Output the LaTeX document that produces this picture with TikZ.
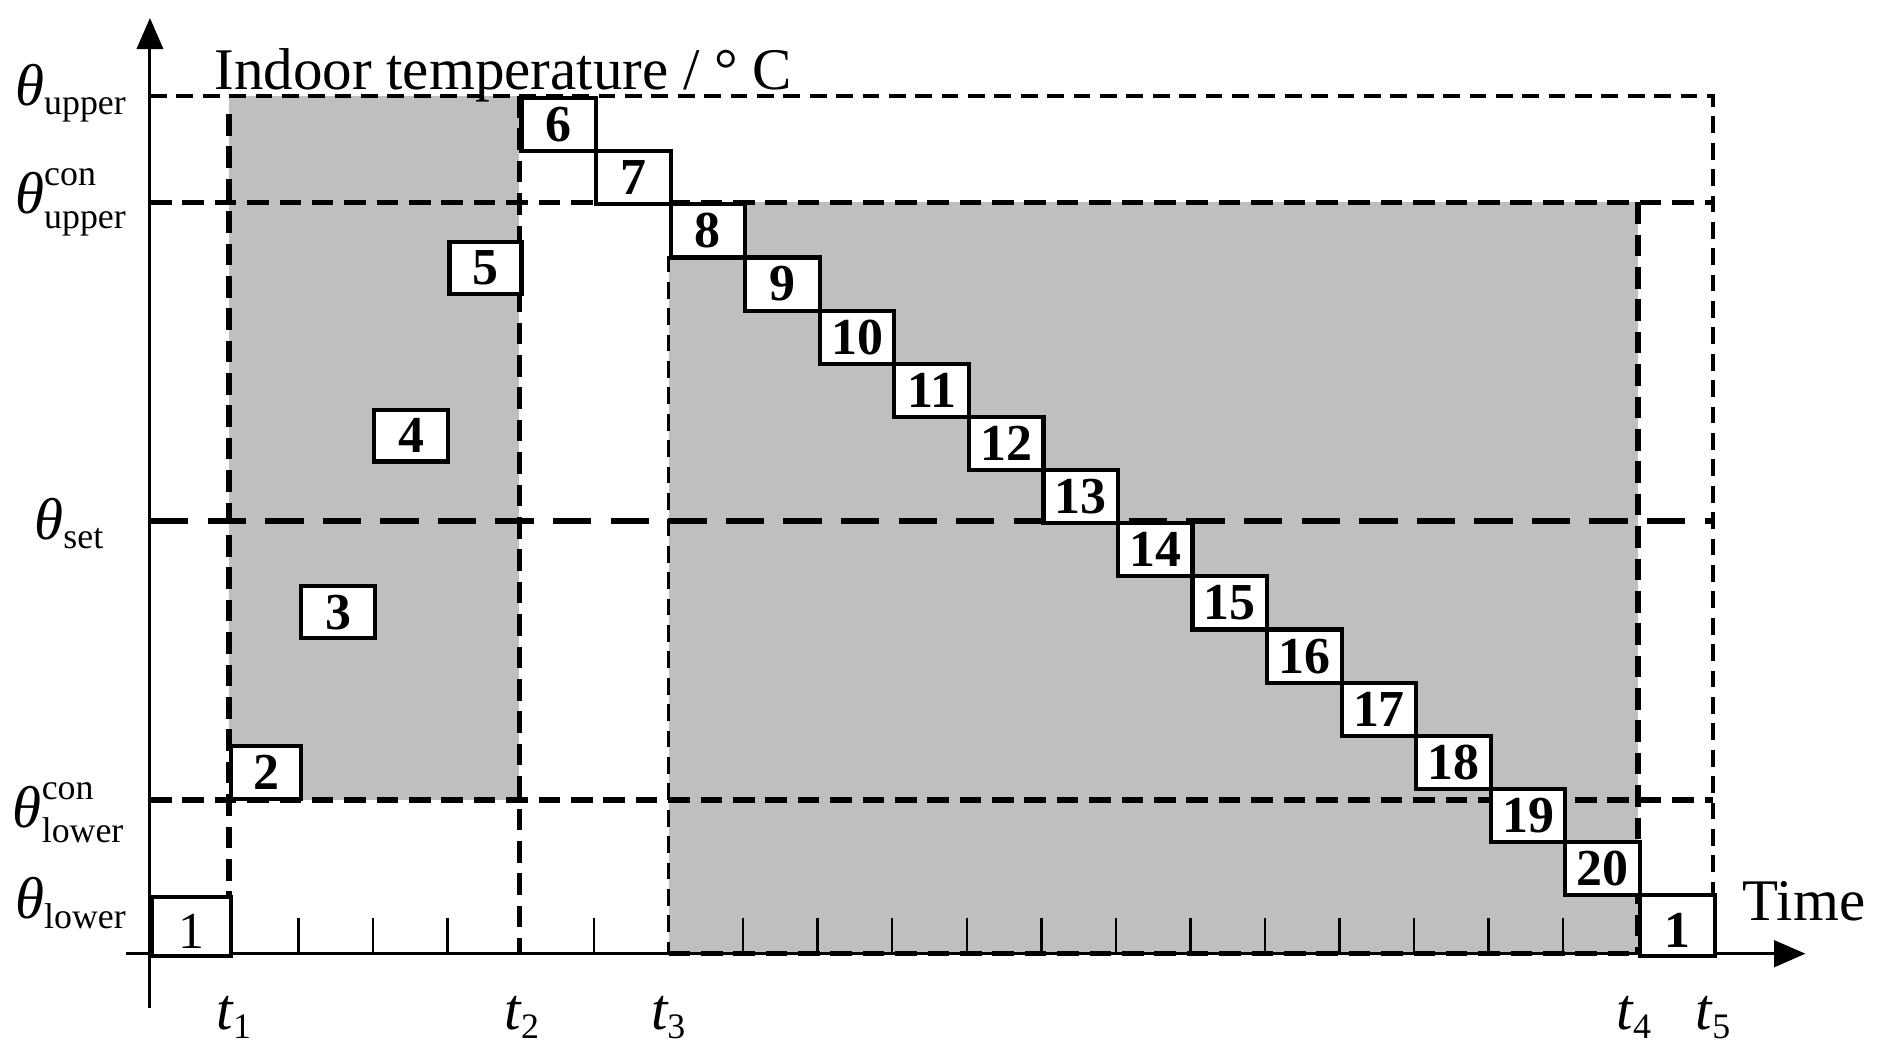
\documentclass[tikz,border=0pt]{standalone}
\usepackage{amsmath}
\usepackage{fontspec}
\setmainfont{Liberation Serif}
\usetikzlibrary{arrows.meta}
\DeclareMathSizes{14}{14}{8.5}{7}
\begin{document}
\begin{tikzpicture}[x=0.1mm,y=-0.1mm,
  ax/.style={line width=0.7pt},
  dthin/.style={line width=0.9pt, dash pattern=on 1.4mm off 0.8mm},
  dmed/.style={line width=1.3pt, dash pattern=on 1.8mm off 0.9mm},
  dlong/.style={line width=1.4pt, dash pattern=on 3.2mm off 1.6mm},
  tick/.style={line width=0.6pt},
  shade/.style={fill=black!25, draw=none},
  box/.style={draw, fill=white, line width=1.0pt, inner sep=0pt, anchor=north west,
    minimum width=6.215mm, minimum height=4.43mm, font=\fontsize{12.3}{12}\selectfont\bfseries},
  lowtext/.style={text height=3.6mm, text depth=0pt},
  lab/.style={anchor=base west, inner sep=0pt, font=\fontsize{14}{16}\selectfont},
  arr/.style={-{Triangle[length=2.6mm,width=2.2mm]}}]
\useasboundingbox (0,0) rectangle (1568,885);
% key coordinates
\coordinate (O) at (125,795);
\coordinate (Yb) at (125,840);
\coordinate (Yt) at (125,15);
\coordinate (Xl) at (105,795);
\coordinate (Xr) at (1505,795);
% shaded regions
\fill[shade] (191,80) rectangle (433,667);
\fill[shade] (557.3,168.6) rectangle (1365.25,795);
% ticks
\foreach \x in {249,311,373,495.15}
  \draw[tick] (\x,765) -- (\x,795);
\foreach \k in {1,...,12}
  \draw[tick] ({557.3+\k*62.15},765) -- ({557.3+\k*62.15},795);
% horizontal dashed levels
\coordinate (U0) at (125,80);    \coordinate (U1) at (1428,80);
\coordinate (CU0) at (125,168.6); \coordinate (CU1) at (1428,168.6);
\coordinate (S0) at (125,434);   \coordinate (S1) at (1428,434);
\coordinate (CL0) at (125,667);  \coordinate (CL1) at (1428,667);
\coordinate (T5b) at (1428,744.5);
\draw[dthin] (U0) -- (U1) -- (T5b);
\draw[dmed] (CU0) -- (CU1);
\draw[dlong] (S0) -- (S1);
\draw[dmed] (CL0) -- (CL1);
% vertical dashed lines
\coordinate (T1t) at (191,95);     \coordinate (T1b) at (191,795);
\coordinate (T2t) at (433,80);     \coordinate (T2b) at (433,795);
\coordinate (T3t) at (557.3,213);  \coordinate (T3b) at (557.3,795);
\coordinate (T4t) at (1365.25,168.6); \coordinate (T4b) at (1365.25,795);
\draw[dmed] (T1t) -- (T1b);
\draw[dmed] (T2t) -- (T2b);
\draw[dthin] (T3t) -- (T3b);
\draw[dmed] (T4t) -- (T4b);
\draw[dmed] (T3b) -- (T4b);
% axes
\draw[ax,arr] (Yb) -- (Yt);
\draw[ax,arr] (Xl) -- (Xr);
% boxes
\node[box, lowtext, minimum width=6.6mm, minimum height=4.9mm, font=\fontsize{12.3}{12}\selectfont] (b1) at (125,746) {1};
\node[box, minimum width=5.8mm, minimum height=4.4mm] (b2) at (191,620) {2};
\node[box, minimum width=6.2mm, minimum height=4.3mm] (b3) at (249,487) {3};
\node[box, minimum width=6.2mm, minimum height=4.3mm] (b4) at (310,340) {4};
\node[box, minimum width=6.0mm, minimum height=4.3mm] (b5) at (373,200) {5};
\foreach \k in {6,...,20}
  \node[box] (b\k) at ({433+(\k-6)*62.15},{80+(\k-6)*44.3}) {\k};
\node[box, lowtext, minimum width=6.275mm, minimum height=5.05mm] (b1r) at (1365.25,744.5) {1};
% texts
\node[lab] (ylab) at (178,75) {Indoor temperature / ° C};
\node[lab] (xlab) at (1452,767) {Time};
\node[lab] (thu) at (12,88) {$\text{\itshape θ}_{\text{upper}}$};
\node[lab] (thcu) at (12,178) {$\text{\itshape θ}^{\text{con}}_{\text{upper}}$};
\node[lab] (ths) at (28,450) {$\text{\itshape θ}_{\text{set}}$};
\node[lab] (thcl) at (10,690) {$\text{\itshape θ}^{\text{con}}_{\text{lower}}$};
\node[lab] (thl) at (12,766) {$\text{\itshape θ}_{\text{lower}}$};
\node[lab] (t1) at (180,858) {$\text{\itshape t}_{\text{1}}$};
\node[lab] (t2) at (420,858) {$\text{\itshape t}_{\text{2}}$};
\node[lab] (t3) at (542,858) {$\text{\itshape t}_{\text{3}}$};
\node[lab] (t4) at (1347,858) {$\text{\itshape t}_{\text{4}}$};
\node[lab] (t5) at (1413,858) {$\text{\itshape t}_{\text{5}}$};
\end{tikzpicture}
\end{document}
